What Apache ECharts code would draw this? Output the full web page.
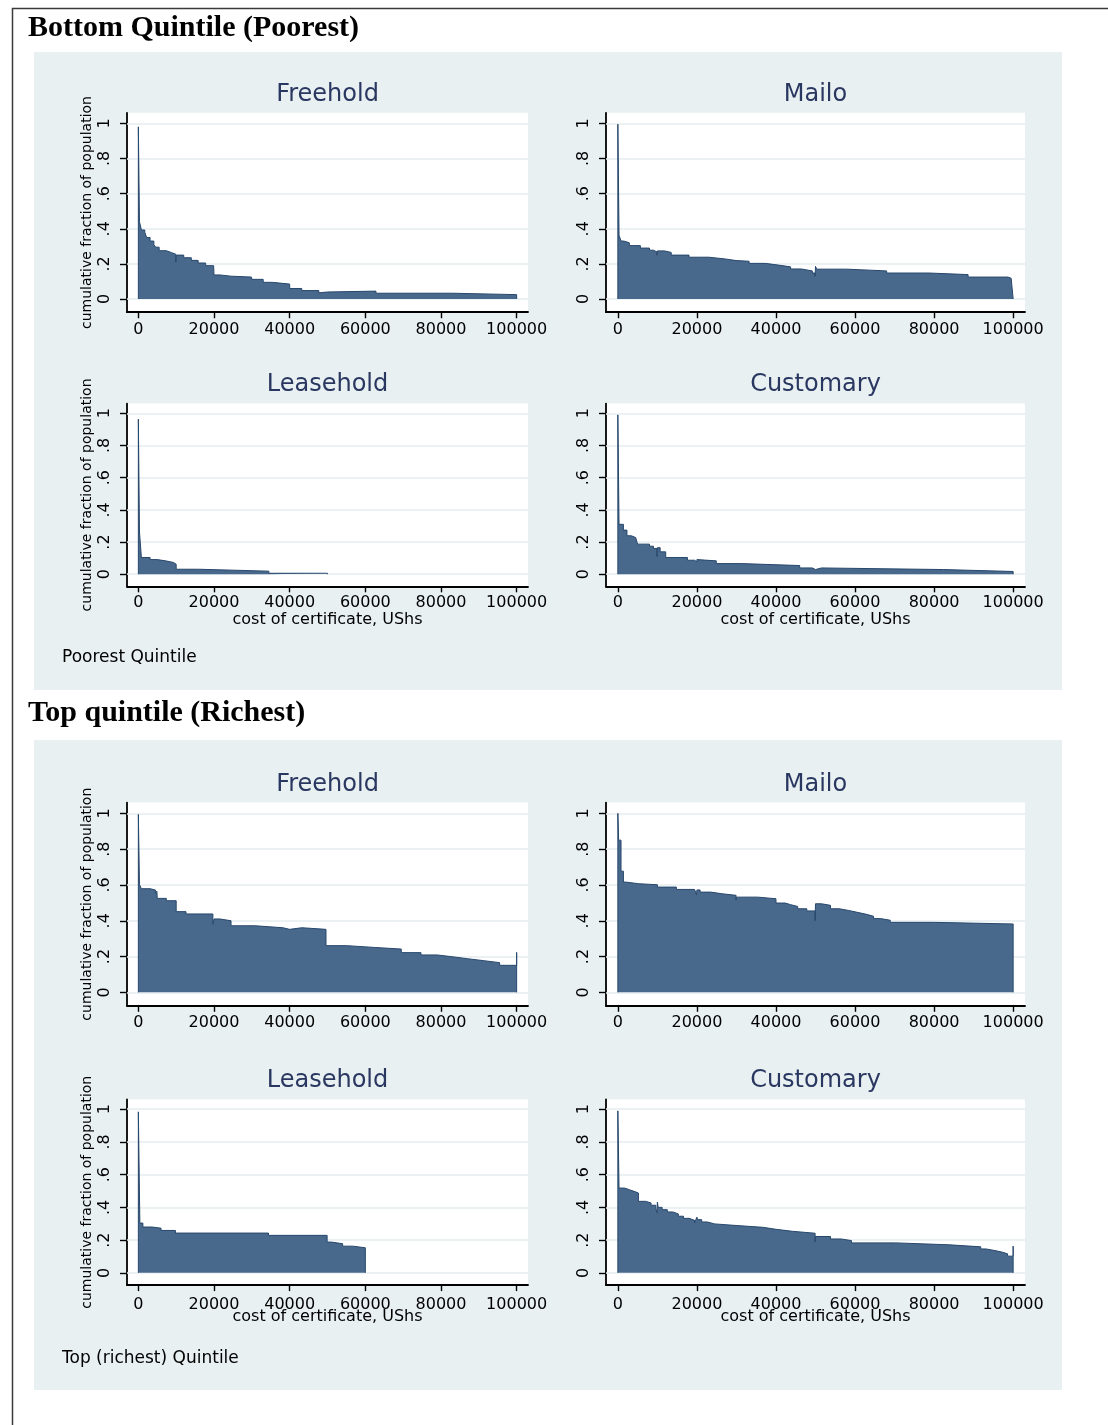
<!DOCTYPE html>
<html>
<head>
<meta charset="utf-8">
<script src="https://cdn.jsdelivr.net/npm/echarts@6/dist/echarts.min.js"></script>
<style>html,body{margin:0;padding:0;background:#fff}#c{width:1108px;height:1425px}</style>
</head>
<body>
<div id="c"></div>
<script>
// ---------- data ----------
const X_TICKS = [0, 20000, 40000, 60000, 80000, 100000];
const Y_TICKS = [0, 0.2, 0.4, 0.6, 0.8, 1];
const Y_TICK_LABELS = ['0', '.2', '.4', '.6', '.8', '1'];
const SECTION_TITLES = ['Bottom Quintile (Poorest)', 'Top quintile (Richest)'];
const SECTION_NOTES = ['Poorest Quintile', 'Top (richest) Quintile'];
const TENURE = ['Freehold', 'Mailo', 'Leasehold', 'Customary'];
const X_NAME = 'cost of certificate, UShs';
const Y_NAME = 'cumulative fraction of population';

const POOR_FREEHOLD_COST = [0, 300, 800, 1700, 2200, 3100, 4100, 4600, 5500, 7400, 8800, 9900, 10000, 12000, 14000, 15800, 17800, 19900, 20000, 21600, 24500, 29900, 30000, 33000, 35400, 40000, 43200, 47700, 48200, 50000, 62800, 83000, 100000];
const POOR_FREEHOLD_SHARE = [0.98, 0.44, 0.393, 0.38, 0.35, 0.33, 0.31, 0.295, 0.275, 0.264, 0.255, 0.21, 0.25, 0.235, 0.22, 0.205, 0.19, 0.195, 0.137, 0.13, 0.125, 0.13, 0.112, 0.095, 0.085, 0.06, 0.048, 0.035, 0.04, 0.045, 0.033, 0.025, 0.025];

const POOR_MAILO_COST = [0, 300, 800, 1500, 2900, 5700, 8000, 9000, 9900, 10000, 11800, 13500, 18000, 23000, 27200, 29900, 30000, 33200, 37300, 41000, 43700, 46400, 49200, 49900, 50000, 50300, 57900, 68000, 78700, 88600, 98700, 99500, 100000];
const POOR_MAILO_SHARE = [0.995, 0.363, 0.33, 0.32, 0.304, 0.29, 0.278, 0.268, 0.25, 0.274, 0.265, 0.25, 0.238, 0.228, 0.219, 0.208, 0.215, 0.203, 0.192, 0.183, 0.171, 0.16, 0.148, 0.13, 0.186, 0.17, 0.16, 0.148, 0.139, 0.125, 0.118, 0.126, 0.126];

const POOR_LEASE_COST = [0, 300, 800, 3100, 5000, 7200, 9300, 10000, 15900, 34500, 50000];
const POOR_LEASE_SHARE = [0.963, 0.263, 0.104, 0.091, 0.083, 0.073, 0.062, 0.031, 0.019, 0.006, 0.006];

const POOR_CUSTOM_COST = [0, 300, 1400, 2300, 3400, 4500, 4900, 5000, 8000, 9000, 9900, 10000, 10700, 12100, 17600, 19400, 20000, 20500, 24900, 31300, 46000, 49200, 50000, 51500, 82400, 100000];
const POOR_CUSTOM_SHARE = [0.99, 0.31, 0.274, 0.239, 0.228, 0.218, 0.225, 0.187, 0.174, 0.16, 0.11, 0.165, 0.139, 0.104, 0.087, 0.077, 0.091, 0.083, 0.066, 0.054, 0.039, 0.029, 0.039, 0.029, 0.017, 0.017];

const RICH_FREEHOLD_COST = [0, 300, 800, 3100, 4500, 4900, 5000, 7400, 10000, 12600, 19700, 20000, 21600, 24500, 30900, 38200, 40000, 43200, 49600, 55000, 62400, 69500, 74700, 79000, 83000, 87000, 91300, 95500, 100000];
const RICH_FREEHOLD_SHARE = [0.994, 0.603, 0.579, 0.572, 0.553, 0.565, 0.525, 0.512, 0.451, 0.438, 0.38, 0.41, 0.40, 0.372, 0.361, 0.352, 0.361, 0.352, 0.261, 0.251, 0.242, 0.222, 0.209, 0.199, 0.188, 0.177, 0.166, 0.151, 0.223];

const RICH_MAILO_COST = [0, 200, 800, 1400, 2000, 5200, 10000, 14800, 19400, 19900, 20000, 20800, 23500, 26300, 29900, 30000, 35400, 40000, 42300, 43700, 45500, 47800, 49900, 50000, 51500, 53800, 56000, 58300, 60600, 62900, 64700, 66500, 68900, 80100, 100000];
const RICH_MAILO_SHARE = [1.0, 0.85, 0.677, 0.616, 0.607, 0.601, 0.588, 0.575, 0.566, 0.545, 0.572, 0.56, 0.551, 0.542, 0.515, 0.532, 0.523, 0.499, 0.49, 0.48, 0.467, 0.455, 0.40, 0.495, 0.486, 0.467, 0.458, 0.447, 0.436, 0.425, 0.412, 0.403, 0.391, 0.382, 0.382];

const RICH_LEASE_COST = [0, 400, 1200, 3600, 6000, 9800, 34400, 49900, 51000, 54000, 56700, 60000];
const RICH_LEASE_SHARE = [0.984, 0.304, 0.28, 0.273, 0.259, 0.243, 0.229, 0.188, 0.178, 0.163, 0.153, 0.145];

const RICH_CUSTOM_COST = [0, 300, 1700, 2900, 4100, 5200, 7000, 8400, 9600, 9900, 10000, 10200, 11200, 12500, 13900, 15300, 16600, 18000, 19400, 19900, 20000, 20200, 21200, 22600, 24500, 30100, 36800, 40000, 44100, 49900, 50000, 53800, 56500, 59100, 70300, 84000, 91800, 93100, 95400, 97300, 98600, 100000];
const RICH_CUSTOM_SHARE = [0.99, 0.518, 0.508, 0.498, 0.488, 0.437, 0.427, 0.413, 0.396, 0.366, 0.433, 0.40, 0.386, 0.372, 0.36, 0.346, 0.333, 0.321, 0.305, 0.298, 0.34, 0.325, 0.311, 0.299, 0.289, 0.278, 0.266, 0.254, 0.242, 0.19, 0.222, 0.207, 0.197, 0.183, 0.171, 0.159, 0.146, 0.136, 0.126, 0.116, 0.102, 0.163];

const SERIES_COST = [POOR_FREEHOLD_COST, POOR_MAILO_COST, POOR_LEASE_COST, POOR_CUSTOM_COST,
                     RICH_FREEHOLD_COST, RICH_MAILO_COST, RICH_LEASE_COST, RICH_CUSTOM_COST];
const SERIES_SHARE = [POOR_FREEHOLD_SHARE, POOR_MAILO_SHARE, POOR_LEASE_SHARE, POOR_CUSTOM_SHARE,
                      RICH_FREEHOLD_SHARE, RICH_MAILO_SHARE, RICH_LEASE_SHARE, RICH_CUSTOM_SHARE];

// ---------- layout & style ----------
const FONT = 'DejaVu Sans';
const BG = '#e8f0f2';
const FILL = '#48698c';
const EDGE = '#27476c';
const GRIDLINE = '#e6eef0';
const TITLE_COLOR = '#2a3760';
const X_MIN = -3000, X_MAX = 103000, Y_MIN = -0.075, Y_MAX = 1.06;
const COLS = [{left: 127, width: 401, yName: true, labelMargin: 14.5},
              {left: 606, width: 419, yName: false, labelMargin: 14.5}];
const ROWS = [
  {top: 112.8, height: 199.4, labelMargin: 10, xName: false, nameGap: 0, titleY: 95},
  {top: 403.6, height: 182.7, labelMargin: 9, xName: true, nameGap: 26, titleY: 385},
  {top: 802.6, height: 203.2, labelMargin: 9, xName: false, nameGap: 0, titleY: 784.5},
  {top: 1099.4, height: 185.7, labelMargin: 12, xName: true, nameGap: 24, titleY: 1081}
];

const grids = [], xAxes = [], yAxes = [], series = [], texts = [];
for (let i = 0; i < 8; i++) {
  const row = ROWS[Math.floor(i / 2)], col = COLS[i % 2];
  grids.push({left: col.left, top: row.top, width: col.width, height: row.height,
    show: true, backgroundColor: '#ffffff', borderWidth: 0, containLabel: false, outerBoundsMode: 'none'});
  xAxes.push({
    gridIndex: i, type: 'value', min: X_MIN, max: X_MAX,
    axisLine: {show: true, onZero: false, lineStyle: {color: '#000', width: 1.8}},
    axisTick: {show: true, customValues: X_TICKS, length: 6, lineStyle: {color: '#000', width: 1.4}},
    axisLabel: {show: true, customValues: X_TICKS, margin: row.labelMargin, color: '#000',
      fontFamily: FONT, fontSize: 16, formatter: v => String(v)},
    splitLine: {show: false},
    name: row.xName ? X_NAME : '', nameLocation: 'middle', nameGap: row.nameGap, nameMoveOverlap: false,
    nameTextStyle: {fontFamily: FONT, fontSize: 16, color: '#000'}
  });
  yAxes.push({
    gridIndex: i, type: 'value', min: Y_MIN, max: Y_MAX,
    axisLine: {show: true, onZero: false, lineStyle: {color: '#000', width: 1.8}},
    axisTick: {show: true, customValues: Y_TICKS, length: 7, lineStyle: {color: '#000', width: 1.4}},
    axisLabel: {show: true, customValues: Y_TICKS, rotate: 90, margin: col.labelMargin, color: '#000',
      fontFamily: FONT, fontSize: 16,
      formatter: v => { const k = Y_TICKS.findIndex(t => Math.abs(t - v) < 1e-9); return k >= 0 ? Y_TICK_LABELS[k] : ''; }},
    splitLine: {show: false},
    name: col.yName ? Y_NAME : '', nameLocation: 'middle', nameGap: 33, nameMoveOverlap: false,
    nameTextStyle: {fontFamily: FONT, fontSize: 14, color: '#000'}
  });
  // gridlines at the y ticks, behind the area
  series.push({
    type: 'line', xAxisIndex: i, yAxisIndex: i, data: [], z: 1, silent: true,
    markLine: {silent: true, symbol: 'none', z: 1, animation: false, label: {show: false},
      lineStyle: {color: GRIDLINE, width: 1.6, type: 'solid'},
      data: Y_TICKS.map(v => ({yAxis: v}))}
  });
  const cost = SERIES_COST[i], share = SERIES_SHARE[i];
  const n = Math.min(cost.length, share.length);
  const pts = [[cost[0], 0]];
  for (let k = 0; k < n; k++) pts.push([cost[k], share[k]]);
  pts.push([cost[n - 1], 0]);
  series.push({
    type: 'line', xAxisIndex: i, yAxisIndex: i, step: 'end', smooth: false, smoothMonotone: null,
    sampling: null, connectNulls: false, symbol: 'none', showSymbol: false,
    z: 3, silent: true, data: pts,
    lineStyle: {color: EDGE, width: 1, join: 'miter', cap: 'butt'},
    areaStyle: {color: FILL, opacity: 1, origin: 'auto'}
  });
  texts.push({type: 'text', z: 10, silent: true, x: col.left + col.width / 2, y: row.titleY,
    style: {text: TENURE[i % 4], fill: TITLE_COLOR, font: '24px "' + FONT + '"',
      textAlign: 'center', textVerticalAlign: 'middle'}});
}

const graphic = [
  {type: 'polyline', z: -20, silent: true, shape: {points: [[12.5, 1425], [12.5, 8.5], [1108, 8.5]]},
    style: {stroke: '#3a3a3a', lineWidth: 1.5, fill: null}},
  {type: 'rect', z: -10, silent: true, shape: {x: 34, y: 52, width: 1028, height: 638}, style: {fill: BG}},
  {type: 'rect', z: -10, silent: true, shape: {x: 34, y: 740, width: 1028, height: 650}, style: {fill: BG}},
  {type: 'text', z: 10, silent: true, x: 28, y: 28.5,
    style: {text: SECTION_TITLES[0], fill: '#000', font: 'bold 30px "Liberation Serif"', textAlign: 'left', textVerticalAlign: 'middle'}},
  {type: 'text', z: 10, silent: true, x: 28, y: 713.5,
    style: {text: SECTION_TITLES[1], fill: '#000', font: 'bold 30px "Liberation Serif"', textAlign: 'left', textVerticalAlign: 'middle'}},
  {type: 'text', z: 10, silent: true, x: 62, y: 658,
    style: {text: SECTION_NOTES[0], fill: '#000', font: '17px "' + FONT + '"', textAlign: 'left', textVerticalAlign: 'middle'}},
  {type: 'text', z: 10, silent: true, x: 62, y: 1359,
    style: {text: SECTION_NOTES[1], fill: '#000', font: '17px "' + FONT + '"', textAlign: 'left', textVerticalAlign: 'middle'}}
].concat(texts);

const chart = echarts.init(document.getElementById('c'), null, {renderer: 'canvas', width: 1108, height: 1425});
chart.setOption({
  animation: false,
  backgroundColor: '#ffffff',
  grid: grids, xAxis: xAxes, yAxis: yAxes, series: series,
  graphic: graphic
});
</script>
</body>
</html>
